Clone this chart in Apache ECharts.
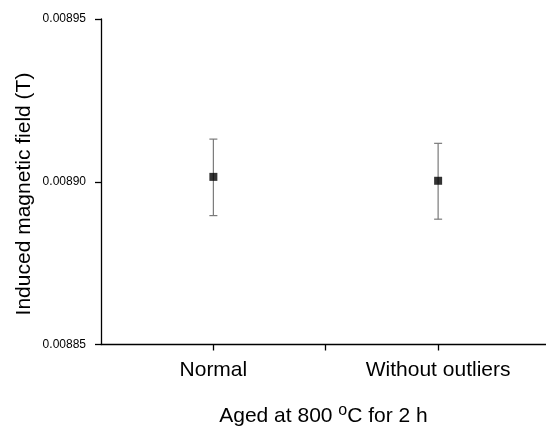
<!DOCTYPE html>
<html>
  <head>
    <meta charset="utf-8" />
    <title>Induced magnetic field</title>
    <script src="https://cdn.jsdelivr.net/npm/echarts@6/dist/echarts.min.js"></script>
  </head>
  <body style="margin:0;background:#fff">
    <div id="main" style="width: 546px; height: 432px"></div>
    <script type="text/javascript">
      // data
      var categories = ['Normal', 'Without outliers'];
      var positions = [1, 2];
      var means = [0.0089015, 0.0089003];
      var lows = [0.0088896, 0.0088885];
      var highs = [0.0089131, 0.0089118];
      var yTicks = [0.00885, 0.0089, 0.00895];

      var chartDom = document.getElementById('main');
      var myChart = echarts.init(chartDom);
      var font = 'Liberation Sans, Arial, sans-serif';

      var errData = positions.map(function (x, i) {
        return [x, lows[i], highs[i]];
      });
      var pointData = positions.map(function (x, i) {
        return [x, means[i]];
      });

      var option = {
        backgroundColor: '#fff',
        animation: false,
        grid: { left: 101, top: 19, bottom: 79, right: 0 },
        graphic: [
          {
            type: 'text',
            x: 14,
            y: 194,
            rotation: Math.PI / 2,
            style: {
              text: 'Induced magnetic field (T)',
              fontSize: 21,
              fontFamily: font,
              fill: '#000',
              align: 'center',
              verticalAlign: 'top'
            }
          }
        ],
        xAxis: {
          type: 'value',
          min: 0.5,
          max: 2.48,
          splitLine: { show: false },
          axisLine: { lineStyle: { color: '#000', width: 1.3 } },
          axisTick: {
            customValues: [1, 1.5, 2],
            length: 6,
            lineStyle: { color: '#000', width: 1.3 }
          },
          axisLabel: {
            customValues: positions,
            margin: 15,
            fontSize: 21,
            fontFamily: font,
            color: '#000',
            formatter: function (v) {
              var i = positions.indexOf(v);
              return i >= 0 ? categories[i] : '';
            }
          },
          name: 'Aged at 800 {sup|o}C for 2 h',
          nameLocation: 'middle',
          nameGap: 58,
          nameTextStyle: {
            fontSize: 21,
            fontFamily: font,
            color: '#000',
            rich: {
              sup: { fontSize: 16, fontFamily: font, color: '#000', padding: [0, 0, 12, 0] }
            }
          }
        },
        yAxis: {
          type: 'value',
          min: yTicks[0],
          max: yTicks[yTicks.length - 1],
          interval: 0.00005,
          splitLine: { show: false },
          axisLine: { show: true, lineStyle: { color: '#000', width: 1.3 } },
          axisTick: { show: true, length: 6, lineStyle: { color: '#000', width: 1.3 } },
          axisLabel: {
            fontSize: 12,
            fontFamily: font,
            color: '#000',
            margin: 15,
            formatter: function (v) {
              return v.toFixed(5);
            }
          }
        },
        series: [
          {
            type: 'custom',
            data: errData,
            renderItem: function (params, api) {
              var top = api.coord([api.value(0), api.value(2)]);
              var bot = api.coord([api.value(0), api.value(1)]);
              var w = 4;
              var st = { stroke: '#7a7a7a', lineWidth: 1.2 };
              return {
                type: 'group',
                children: [
                  { type: 'line', shape: { x1: top[0], y1: top[1], x2: bot[0], y2: bot[1] }, style: st },
                  { type: 'line', shape: { x1: top[0] - w, y1: top[1], x2: top[0] + w, y2: top[1] }, style: st },
                  { type: 'line', shape: { x1: bot[0] - w, y1: bot[1], x2: bot[0] + w, y2: bot[1] }, style: st }
                ]
              };
            },
            z: 2
          },
          {
            type: 'scatter',
            data: pointData,
            symbol: 'rect',
            symbolSize: 8,
            itemStyle: { color: '#000' },
            z: 3
          }
        ]
      };

      option && myChart.setOption(option);
    </script>
  </body>
</html>
